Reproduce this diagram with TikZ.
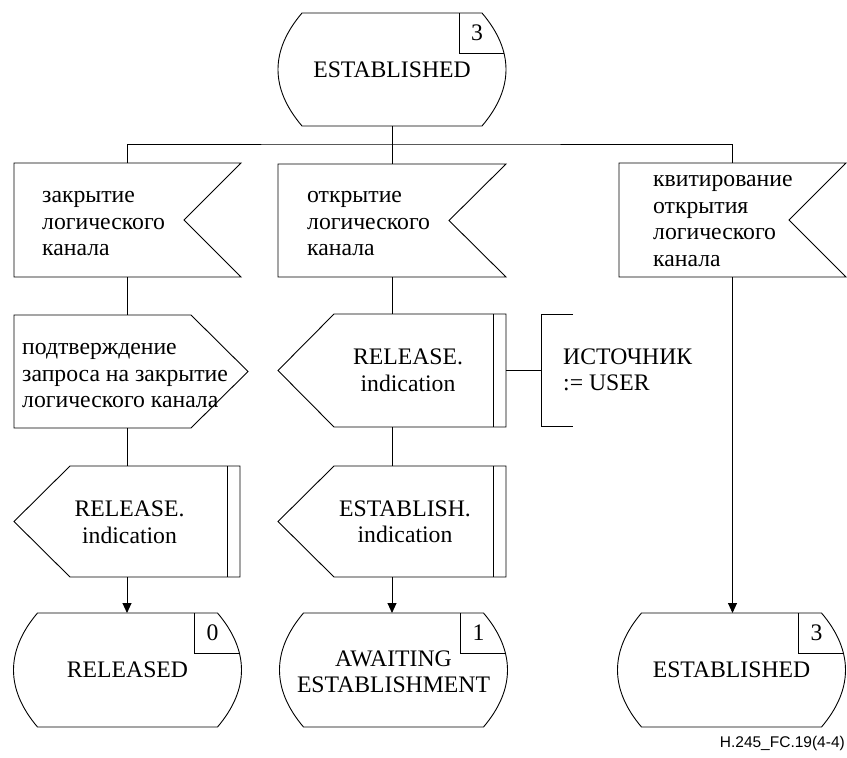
\documentclass[tikz,border=0pt]{standalone}
\usepackage{fontspec}
\setmainfont{Liberation Serif}
\newfontfamily\capfont{Liberation Sans}
\usetikzlibrary{calc,arrows.meta}
\tikzset{
  ln/.style={line width=0.9pt},
  sbox/.style={draw=none, rectangle, inner sep=0pt, outer sep=0pt},
  lbl/.style={inner sep=0pt, font=\fontsize{23.7}{26.5}\selectfont},
  arr/.style={ln, -{Triangle[width=9pt,length=10pt]}},
}
\newcommand\DrawState[1]{%
  \draw[ln] ($(#1.south west)+(24,0)$)
     .. controls ($(#1.south west)+(-8,-37.67)$) and ($(#1.north west)+(-8,37.67)$) .. ($(#1.north west)+(24,0)$)
     -- ($(#1.north east)+(-24,0)$)
     .. controls ($(#1.north east)+(8,37.67)$) and ($(#1.south east)+(8,-37.67)$) .. ($(#1.south east)+(-24,0)$)
     -- cycle;
  \draw[ln] ($(#1.north east)+(-47,0)$) |- ($(#1.north east)+(-2,40)$);}
\newcommand\DrawInput[1]{%
  \draw[ln] (#1.north west) -- (#1.north east) -- ($(#1.east)+(-57,0)$) -- (#1.south east) -- (#1.south west) -- cycle;}
\newcommand\DrawDecision[1]{%
  \draw[ln] (#1.north west) -- ($(#1.north east)+(-57,0)$) -- (#1.east) -- ($(#1.south east)+(-57,0)$) -- (#1.south west) -- cycle;}
\newcommand\DrawOutput[1]{%
  \draw[ln] (#1.west) -- ($(#1.north west)+(56,0)$) -- (#1.north east) -- (#1.south east) -- ($(#1.south west)+(56,0)$) -- cycle;
  \draw[ln] ($(#1.north east)+(-12.5,0)$) -- ($(#1.south east)+(-12.5,0)$);}
\begin{document}
\begin{tikzpicture}[x=1pt,y=-1pt]
\useasboundingbox (0,0) rectangle (847,758);
% ---- shape frames
\node[sbox, minimum width=228pt, minimum height=113pt] (s0) at (392,69.5) {};
\node[sbox, minimum width=227pt, minimum height=114pt] (in1) at (127.5,220) {};
\node[sbox, minimum width=228pt, minimum height=113pt] (in2) at (392,220.5) {};
\node[sbox, minimum width=227pt, minimum height=114pt] (in3) at (732.5,220) {};
\node[sbox, minimum width=234pt, minimum height=113pt] (dec) at (131,371.5) {};
\node[sbox, minimum width=226pt, minimum height=111pt] (o1) at (127,521.5) {};
\node[sbox, minimum width=228pt, minimum height=113pt] (o2) at (392,370.5) {};
\node[sbox, minimum width=228pt, minimum height=111pt] (o3) at (392,521.5) {};
\node[sbox, minimum width=32pt, minimum height=112pt] (br) at (557,370.5) {};
\node[sbox, minimum width=228pt, minimum height=114pt] (r0) at (127.5,670) {};
\node[sbox, minimum width=228pt, minimum height=114pt] (r1) at (393.5,670) {};
\node[sbox, minimum width=228pt, minimum height=114pt] (r2) at (731.5,670) {};
% ---- outlines
\DrawState{s0}
\DrawInput{in1}
\DrawInput{in2}
\DrawInput{in3}
\DrawDecision{dec}
\DrawOutput{o1}
\DrawOutput{o2}
\DrawOutput{o3}
\draw[ln] (br.north east) -- (br.north west) -- (br.south west) -- (br.south east);
\DrawState{r0}
\DrawState{r1}
\DrawState{r2}
% ---- texts
\node[lbl] (s0t) at (s0) {ESTABLISHED};
\node[lbl] (s0n) at ($(s0.north east)+(-29,19.5)$) {3};
\node[lbl, anchor=west, align=left] (in1t) at (42,224) {закрытие\\логического\\канала};
\node[lbl, anchor=west, align=left] (in2t) at (307,224) {открытие\\логического\\канала};
\node[lbl, anchor=west, align=left] (in3t) at (653,221) {квитирование\\открытия\\логического\\канала};
\node[lbl, anchor=west, align=left] (dect) at (22,376) {подтверждение\\запроса на закрытие\\логического канала};
\node[lbl, align=center] (o1t) at (129.5,522.5) {RELEASE.\\indication};
\node[lbl, align=center] (o2t) at (408,370.5) {RELEASE.\\indication};
\node[lbl, align=center] (o3t) at (405,522) {ESTABLISH.\\indication};
\node[lbl, anchor=west, align=left] (brt) at (563,370) {ИСТОЧНИК\\:= USER};
\node[lbl] (r0t) at (r0) {RELEASED};
\node[lbl] (r0n) at ($(r0.north east)+(-29,20)$) {0};
\node[lbl, align=center] (r1t) at (393.5,672) {AWAITING\\ESTABLISHMENT};
\node[lbl] (r1n) at ($(r1.north east)+(-29,20)$) {1};
\node[lbl] (r2t) at (r2) {ESTABLISHED};
\node[lbl] (r2n) at ($(r2.north east)+(-29,20)$) {3};
\node[anchor=east, inner sep=0pt, font=\capfont\fontsize{15.5}{18}\selectfont] (cap) at (845,743) {H.245\_FC.19(4-4)};
% ---- connectors
\coordinate (bus) at (392,144);
\draw[ln] (s0.south) -- (bus);
\draw[ln] (in1.north) |- (bus) -| (in3.north);
\draw[ln] (bus) -- (in2.north);
\draw[ln] (in1.south) -- (in1.south |- dec.north);
\draw[ln] (dec.south -| o1.north) -- (o1.north);
\draw[arr] (o1.south) -- (o1.south |- r0.north);
\draw[ln] (in2.south) -- (o2.north);
\draw[ln] (o2.south) -- (o3.north);
\draw[arr] (o3.south) -- (o3.south |- r1.north);
\draw[ln] (o2.east) -- (br.west);
\draw[arr] (in3.south) -- (in3.south |- r2.north);
\end{tikzpicture}
\end{document}
